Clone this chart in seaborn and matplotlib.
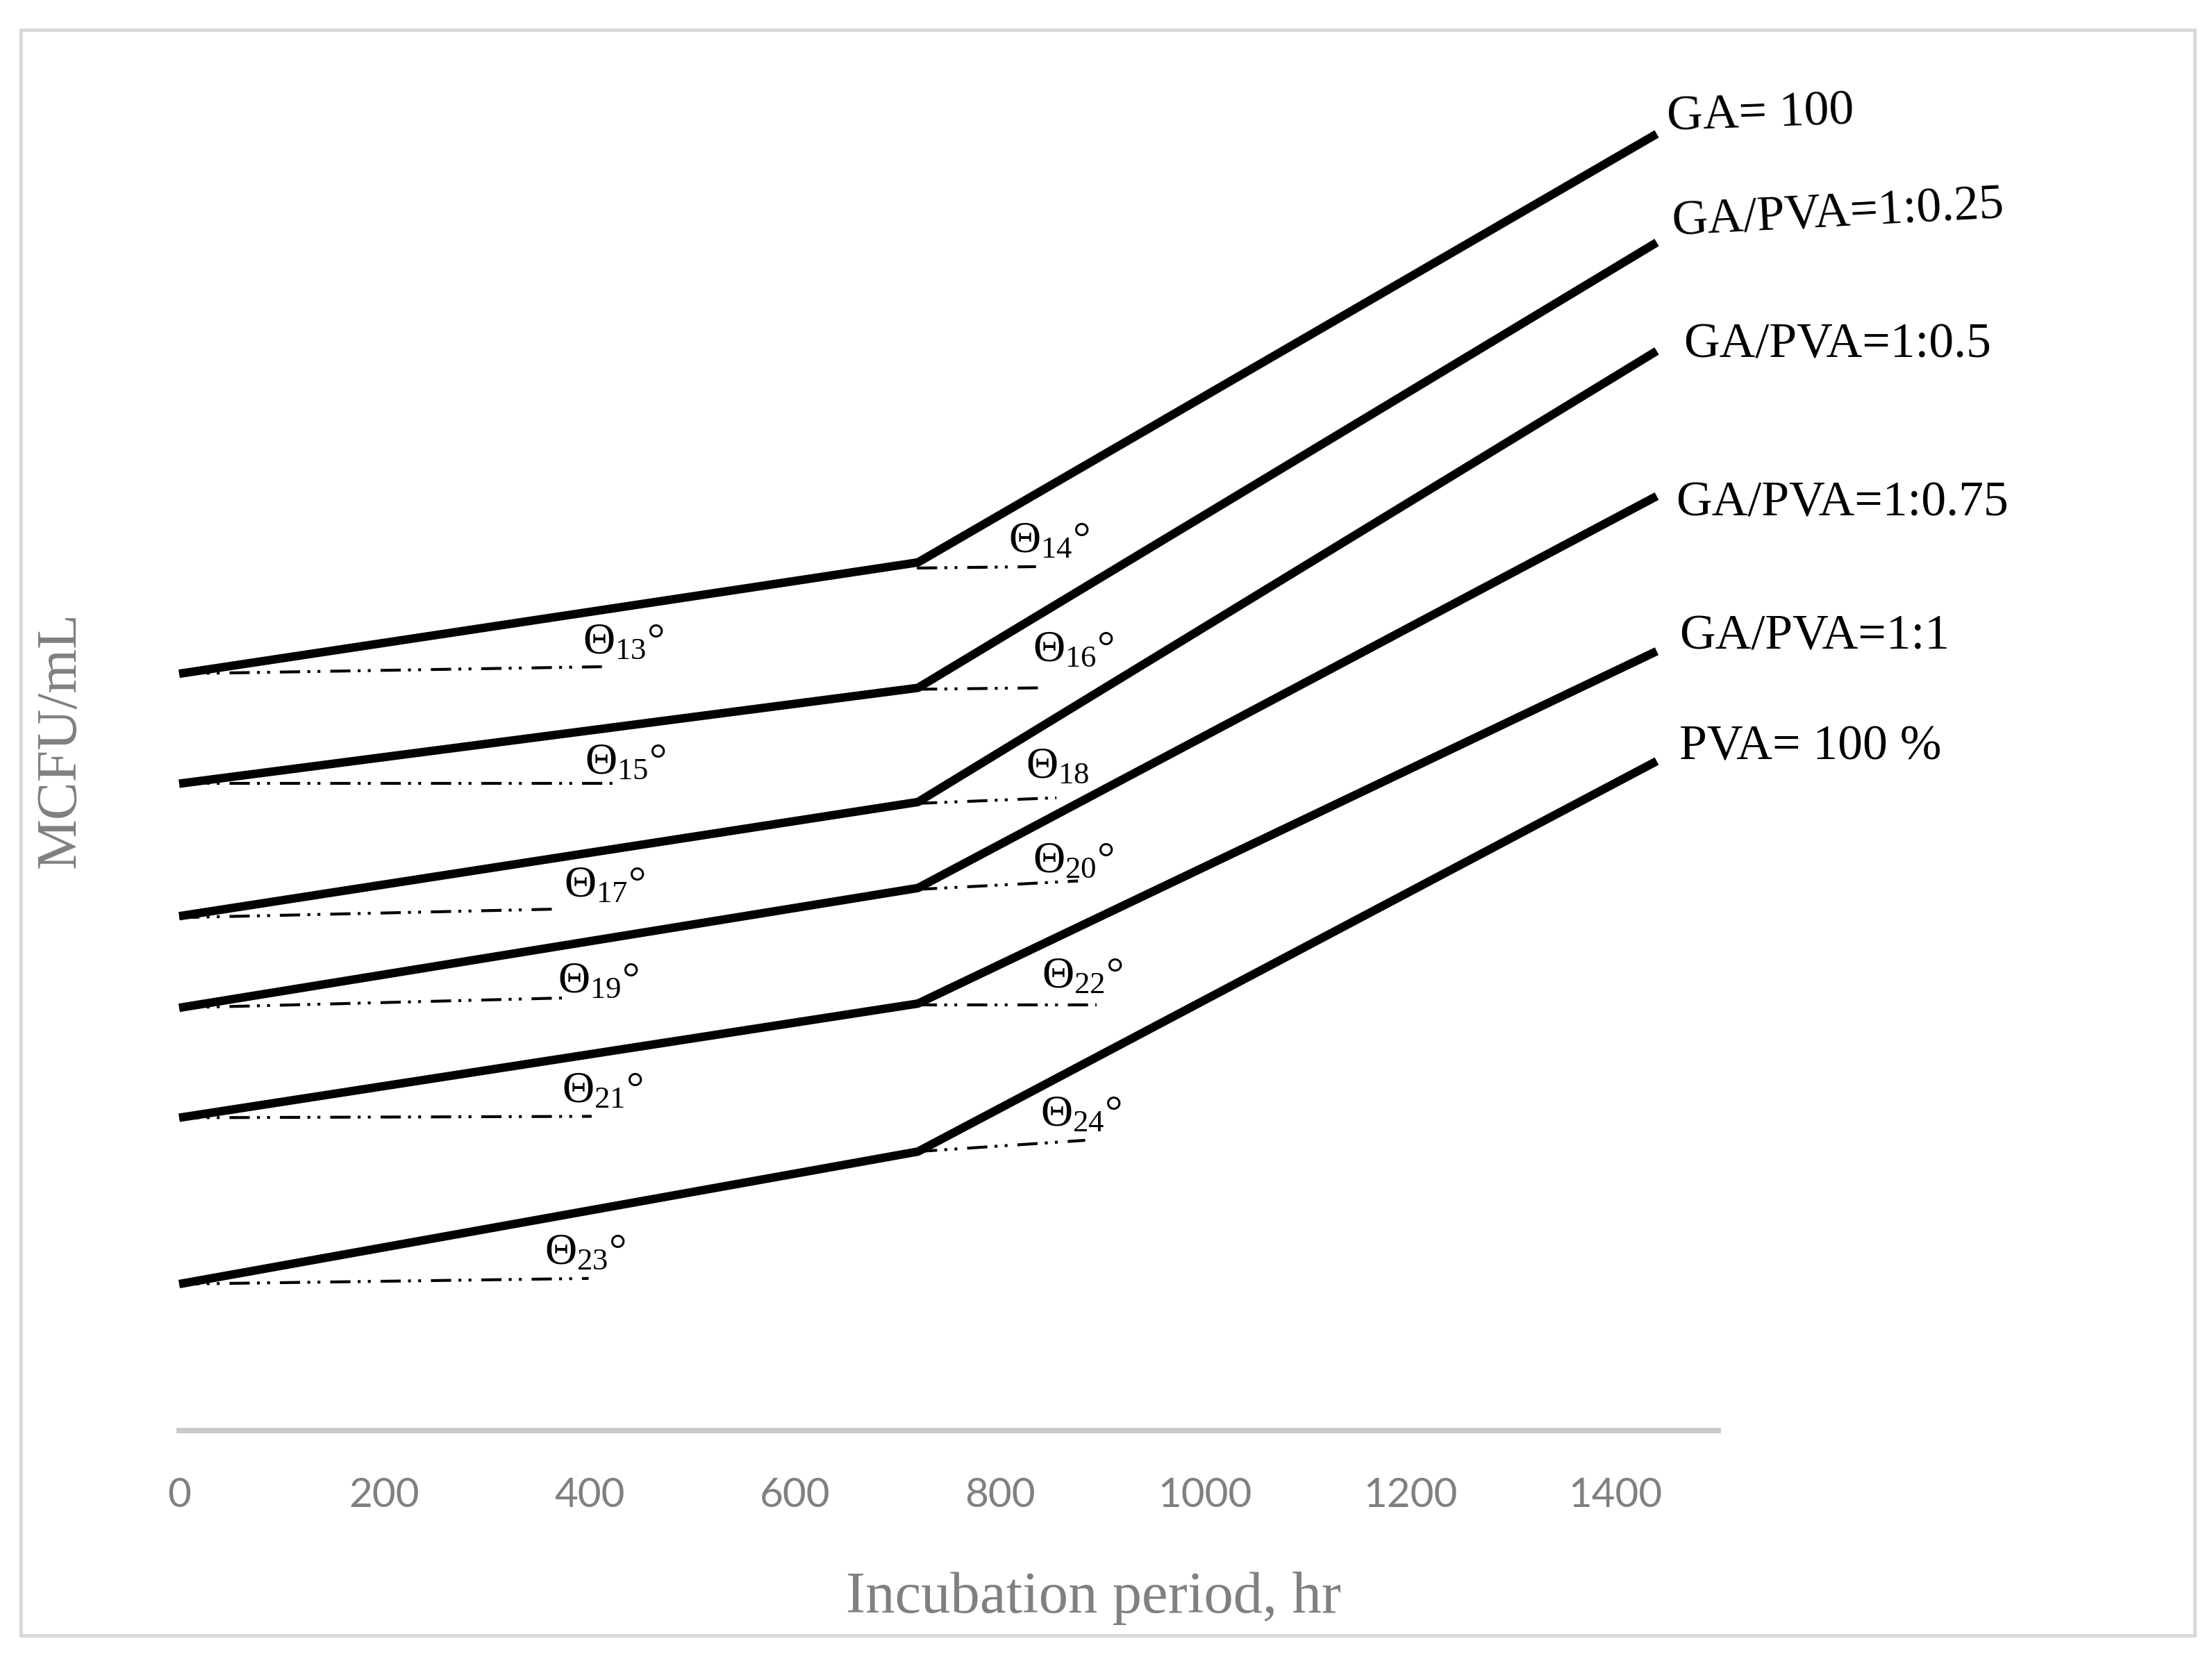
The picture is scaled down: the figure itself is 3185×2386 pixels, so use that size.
import pandas as pd
import matplotlib.pyplot as plt
import seaborn as sns
from matplotlib.patches import Rectangle

# incubation time points (hr)
hours = [0, 720, 1440]

# MCFU/mL, arbitrary scale
ga_100 = [53.7, 61.6, 92.0]
ga_pva_025 = [45.9, 52.7, 84.3]
ga_pva_05 = [36.5, 44.6, 76.6]
ga_pva_075 = [30.0, 38.5, 66.3]
ga_pva_1 = [22.2, 30.3, 55.3]
pva_100 = [10.4, 19.8, 47.5]

series_names = ["GA= 100", "GA/PVA=1:0.25", "GA/PVA=1:0.5",
                "GA/PVA=1:0.75", "GA/PVA=1:1", "PVA= 100 %"]
series_values = [ga_100, ga_pva_025, ga_pva_05, ga_pva_075, ga_pva_1, pva_100]

# dash-dot-dot reference lines used to mark the slope angles
angle_labels = ["Θ$_{13}$°", "Θ$_{14}$°", "Θ$_{15}$°", "Θ$_{16}$°",
                "Θ$_{17}$°", "Θ$_{18}$", "Θ$_{19}$°", "Θ$_{20}$°",
                "Θ$_{21}$°", "Θ$_{22}$°", "Θ$_{23}$°", "Θ$_{24}$°"]
ref_x_start = [0, 719, 0, 719, 0, 719, 0, 719, 0, 719, 0, 719]
ref_x_end = [412, 835, 423, 839, 365, 855, 375, 876, 402, 894, 399, 883]
ref_y_start = [53.7, 61.2, 45.9, 52.6, 36.4, 44.5, 30.0, 38.4, 22.2, 30.2, 10.4, 19.8]
ref_y_end = [54.2, 61.3, 45.9, 52.7, 37.0, 44.9, 30.7, 39.0, 22.3, 30.2, 10.8, 20.6]

xticks = [0, 200, 400, 600, 800, 1000, 1200, 1400]

# where the text goes (layout, not data)
angle_text_x = [393, 808, 395, 832, 375, 825, 369, 832, 373, 841, 356, 839]
angle_text_y = [55.1, 62.3, 46.6, 54.6, 37.9, 46.3, 31.1, 39.6, 23.3, 31.4, 11.8, 21.6]
name_text_x = [1450, 1455, 1466, 1459, 1462, 1462]
name_text_y = [93.1, 85.7, 77.0, 65.8, 56.3, 48.5]
name_rot = [2, 3, 0, 0, 0, 0]

rows = []
for name, vals in zip(series_names, series_values):
    for h, v in zip(hours, vals):
        rows.append({"hours": h, "mcfu": v, "series": name})
df = pd.DataFrame(rows)

sns.set_theme(style="white")
plt.rcParams["font.family"] = ["Liberation Serif", "DejaVu Serif"]
plt.rcParams["mathtext.fontset"] = "custom"
plt.rcParams["mathtext.rm"] = "Liberation Serif"
plt.rcParams["mathtext.default"] = "regular"

fig = plt.figure(figsize=(15.925, 11.93), dpi=200)
ax = fig.add_axes([0.081, 0.1366, 0.6958, 0.8081])

sns.lineplot(data=df, x="hours", y="mcfu", hue="series", units="series",
             estimator=None, sort=False, palette=["black"] * 6,
             linewidth=4.4, legend=False, ax=ax)
for line in ax.lines:
    line.set_clip_on(False)
    line.set_solid_capstyle("butt")

for i in range(len(angle_labels)):
    ax.plot([ref_x_start[i], ref_x_end[i]], [ref_y_start[i], ref_y_end[i]],
            color="black", lw=1.5, linestyle=(0, (7, 2.5, 1, 2.5, 1, 3.4)),
            clip_on=False)
    ax.text(angle_text_x[i], angle_text_y[i], angle_labels[i], fontsize=23,
            va="baseline", ha="left", color="black")

for i, name in enumerate(series_names):
    ax.text(name_text_x[i], name_text_y[i], name, fontsize=25.8, va="center",
            ha="left", rotation=name_rot[i], rotation_mode="anchor",
            color="black")

ax.set_xlim(0, 1500)
ax.set_ylim(0, 95)
ax.set_xticks(xticks)
ax.set_xticklabels([str(t) for t in xticks], family="Lato", color="#808080",
                   fontsize=21)
ax.set_yticks([])
ax.tick_params(axis="x", length=0, pad=24)

for side in ["top", "left", "right"]:
    ax.spines[side].set_visible(False)
ax.spines["bottom"].set_color("#c8c8c8")
ax.spines["bottom"].set_linewidth(2.8)

ax.set_xlabel("Incubation period, hr", fontsize=30.5, color="#808080")
ax.xaxis.set_label_coords(0.594, -0.105)
ax.set_ylabel("MCFU/mL", fontsize=29.5, color="#808080")
ax.yaxis.set_label_coords(-0.0596, 0.5156)

fig.patches.append(Rectangle((0.0094, 0.013), 0.9828, 0.969,
                             transform=fig.transFigure, fill=False,
                             edgecolor="#d9d9d9", linewidth=1.8))

plt.savefig("out.png", dpi=200)
